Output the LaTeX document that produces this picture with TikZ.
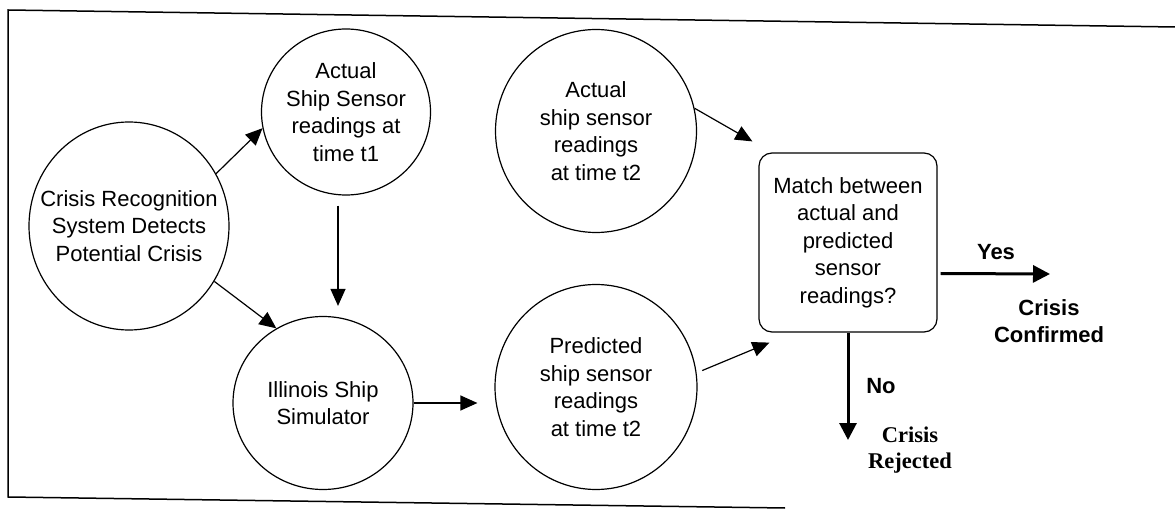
\documentclass[tikz,border=0pt]{standalone}
\usepackage{fontspec}
\setmainfont{Liberation Sans}
\newfontfamily\rejfont{Liberation Serif}
\usetikzlibrary{shapes.geometric,arrows.meta}

\begin{document}
\begin{tikzpicture}[x=1pt, y=-1pt,
        bubble/.style={draw, ellipse, line width=1.2pt, inner sep=0pt},
        txt/.style={align=center, font=\fontsize{22}{27.5}\selectfont},
        decision/.style={draw, rounded corners=13pt, line width=1.2pt, minimum width=178pt, minimum height=179pt, inner sep=0pt, txt},
        arr/.style={-{Triangle[length=17pt,width=15pt]}, line width=1.2pt},
        boldarr/.style={-{Triangle[length=17pt,width=17pt]}, line width=3pt},
        lbl/.style={align=center, font=\bfseries\fontsize{22}{27.5}\selectfont}
    ]
        \useasboundingbox (0,0) rectangle (1175,510);

        % Frame
        \draw[line width=1.5pt] (1175,27) -- (8,10) -- (8,497) -- (785,508);

        % Simulation side
        \node[bubble, minimum width=200pt, minimum height=208pt, label={[txt]center:Crisis Recognition\\System Detects\\Potential Crisis}] (crisis) at (129,226) {};
        \node[bubble, minimum width=169pt, minimum height=166pt, label={[txt]center:Actual\\Ship Sensor\\readings at\\time t1}] (act1) at (346,112) {};
        \node[bubble, minimum width=180pt, minimum height=173pt, label={[txt]center:Illinois Ship\\Simulator}] (ill) at (323,403) {};

        % Readings at t2
        \node[bubble, minimum width=201pt, minimum height=203pt, label={[txt]center:Actual\\ship sensor\\readings\\at time t2}] (act2) at (596,131) {};
        \node[bubble, minimum width=202pt, minimum height=205pt, label={[txt]center:Predicted\\ship sensor\\readings\\at time t2}] (pred) at (596,387) {};

        % Decision
        \node[decision] (match) at (848,242.5) {Match between\\actual and\\predicted\\sensor\\readings?};

        % Outcomes
        \coordinate (yesend) at (1050,274);
        \coordinate (noend) at (848,440);
        \node[lbl] (yes) at (996,252) {Yes};
        \node[lbl] (no) at (881,386) {No};
        \node[lbl] (confirmed) at (1049,321) {Crisis\\Confirmed};
        \node[lbl, font=\rejfont\bfseries\fontsize{22.5}{26}\selectfont] (rejected) at (910,450) {Crisis\\Rejected};

        % Connections
        \draw[arr] (crisis.31) -- (act1.191);
        \draw[arr] (crisis.-33) -- (ill.122);
        \draw[arr, shorten <=10pt, shorten >=10pt] ([xshift=-8pt]act1.south) -- ([xshift=-8pt]act1.south |- ill.north);
        \draw[arr, shorten >=17pt] (ill.east) -- (ill.east -| pred.west);
        \draw[arr] (act2.13) -- ([xshift=-6pt, yshift=11pt]match.north west);
        \draw[arr, shorten <=6pt] (pred.8) -- ([xshift=11pt, yshift=-10pt]match.south west);
        \draw[boldarr] ([xshift=3pt, yshift=-31pt]match.east) -- (yesend);
        \draw[boldarr] (match.south) -- (noend);
    \end{tikzpicture}
\end{document}
